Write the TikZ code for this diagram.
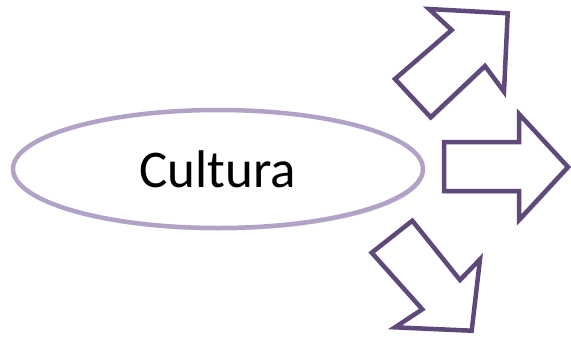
\documentclass[tikz,border=0pt]{standalone}
\usepackage{fontspec}
\setmainfont{Carlito}
\usetikzlibrary{shapes.geometric,shadows}
\definecolor{lilac}{HTML}{B3A2C7}
\definecolor{plum}{HTML}{5F497A}
\tikzset{
  softshadow/.style={drop shadow={shadow xshift=1.5pt, shadow yshift=-2.5pt, opacity=0.15, fill=black}},
  oval/.style={ellipse, draw=lilac, line width=4.5pt, fill=white, inner sep=0pt, softshadow},
  arrowshape/.style={draw=plum, line width=4.5pt, fill=white, line join=miter, softshadow}
}
\begin{document}
\begin{tikzpicture}[x=1pt,y=-1pt]
\useasboundingbox (0,0) rectangle (571,338);
\node[oval, minimum width=410pt, minimum height=118pt, font=\fontsize{53}{60}\selectfont] (cultura) at (218,169) {Cultura};
% up-right arrow
\draw[arrowshape] (507.7,13.3) -- (429,9) -- (451.7,30) -- (395,79) -- (430.7,117.3) -- (485,66) -- (504,91.7) -- cycle;
% right arrow
\draw[arrowshape] (568,167) -- (519,220) -- (519,191) -- (444,191) -- (444,142) -- (519,142) -- (519,114) -- cycle;
% down-right arrow
\draw[arrowshape] (471.7,330.7) -- (395,327.3) -- (422.3,309.3) -- (371.7,252.7) -- (412.3,220.7) -- (460,280) -- (480,259.3) -- cycle;
\end{tikzpicture}
\end{document}
